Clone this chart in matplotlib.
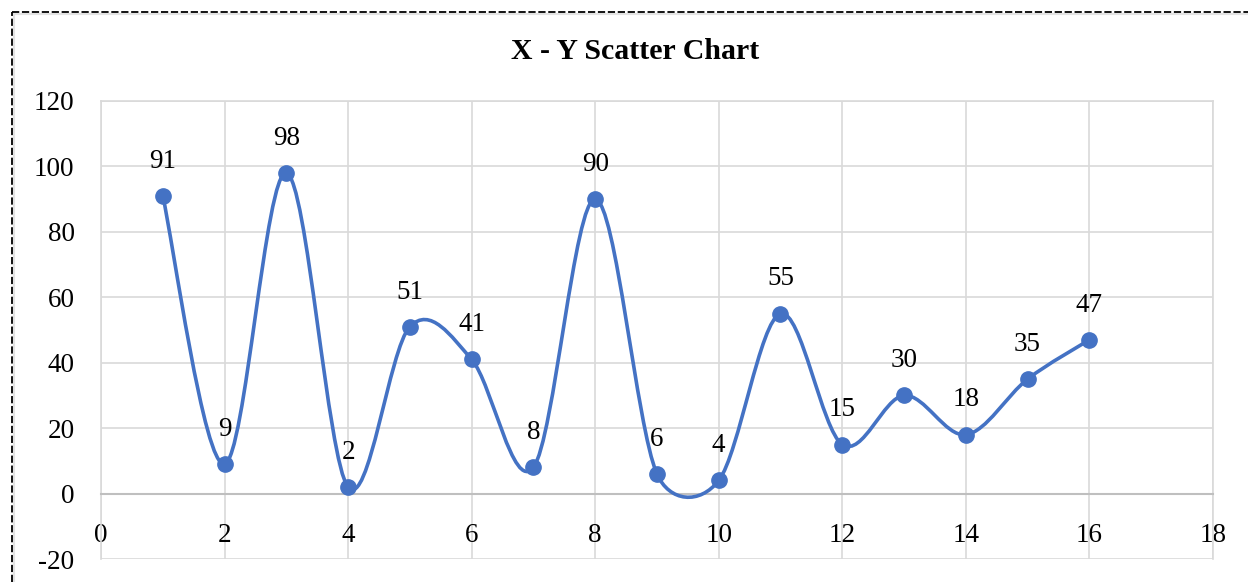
import numpy as np
import matplotlib.pyplot as plt
from matplotlib.path import Path
from matplotlib.patches import PathPatch
from matplotlib.lines import Line2D

plt.rcParams['font.family'] = ['Liberation Serif', 'DejaVu Serif']
plt.rcParams['axes.unicode_minus'] = False

x_vals = [1, 2, 3, 4, 5, 6, 7, 8, 9, 10, 11, 12, 13, 14, 15, 16]
y_vals = [91, 9, 98, 2, 51, 41, 8, 90, 6, 4, 55, 15, 30, 18, 35, 47]
x_ticks = [0, 2, 4, 6, 8, 10, 12, 14, 16, 18]
y_ticks = [-20, 0, 20, 40, 60, 80, 100, 120]

blue = '#4472C4'


def smooth_path(ax, xs, ys):
    # Excel like smoothed line, built in pixel space then mapped back to data
    tr = ax.transData
    p = tr.transform(np.column_stack([xs, ys]).astype(float))
    n = len(p)

    def handle(a, b, seg):
        v = (b - a) / 6.0
        L = np.hypot(*v)
        lim = seg / 2.0
        if L > lim and L > 0:
            v = v * lim / L
        return v

    verts = [p[0]]
    codes = [Path.MOVETO]
    for i in range(n - 1):
        prev = p[i - 1] if i > 0 else p[i]
        nxt = p[i + 2] if i + 2 < n else p[i + 1]
        seg = np.hypot(*(p[i + 1] - p[i]))
        c1 = p[i] + handle(prev, p[i + 1], seg)
        c2 = p[i + 1] - handle(p[i], nxt, seg)
        verts += [c1, c2, p[i + 1]]
        codes += [Path.CURVE4] * 3
    verts = tr.inverted().transform(np.array(verts))
    return Path(verts, codes)


fig = plt.figure(figsize=(12.48, 5.82), dpi=100)
ax = fig.add_axes([0.0809, 0.0395, 0.891, 0.787])

ax.set_xlim(0, 18)
ax.set_ylim(-20, 120)
ax.set_xticks(x_ticks)
ax.set_yticks(y_ticks)
ax.grid(True, color='#D9D9D9', linewidth=1.2)
ax.set_axisbelow(True)

for s in ['top', 'left', 'right']:
    ax.spines[s].set_color('#D9D9D9')
    ax.spines[s].set_linewidth(1.2)
ax.spines['bottom'].set_position(('data', 0))
ax.spines['bottom'].set_color('#BFBFBF')
ax.spines['bottom'].set_linewidth(1.5)

ax.tick_params(axis='x', length=0, pad=21, labelsize=19.5)
ax.tick_params(axis='y', length=0, pad=19, labelsize=19.5)

ax.add_patch(PathPatch(smooth_path(ax, x_vals, y_vals), facecolor='none',
                       edgecolor=blue, linewidth=2.6, zorder=3))
ax.plot(x_vals, y_vals, 'o', color=blue, markersize=11, zorder=4)

for xv, yv in zip(x_vals, y_vals):
    ax.annotate(str(yv), (xv, yv), xytext=(0, 25), textcoords='offset points',
                ha='center', va='center', fontsize=19.5, zorder=5)

fig.text(0.509, 0.912, 'X - Y Scatter Chart', ha='center', va='center',
         fontsize=21.5, fontweight='bold')

# dashed chart border (top and left visible), light gray edge inside it
bx, by = 12 / 1248, 1 - 12 / 582
fig.add_artist(Line2D([bx + 2 / 1248, 1.0], [by - 2 / 582, by - 2 / 582],
                      transform=fig.transFigure, color='#E3E3E3', linewidth=1.5))
fig.add_artist(Line2D([bx + 2 / 1248, bx + 2 / 1248], [0, by - 2 / 582],
                      transform=fig.transFigure, color='#E3E3E3', linewidth=1.5))
fig.add_artist(Line2D([bx, 1.0], [by, by], transform=fig.transFigure,
                      color='black', linewidth=1.3, linestyle=(0, (4, 1.5))))
fig.add_artist(Line2D([bx, bx], [0, by], transform=fig.transFigure,
                      color='black', linewidth=1.3, linestyle=(0, (4, 1.5))))

fig.savefig('out.png', dpi=100)
